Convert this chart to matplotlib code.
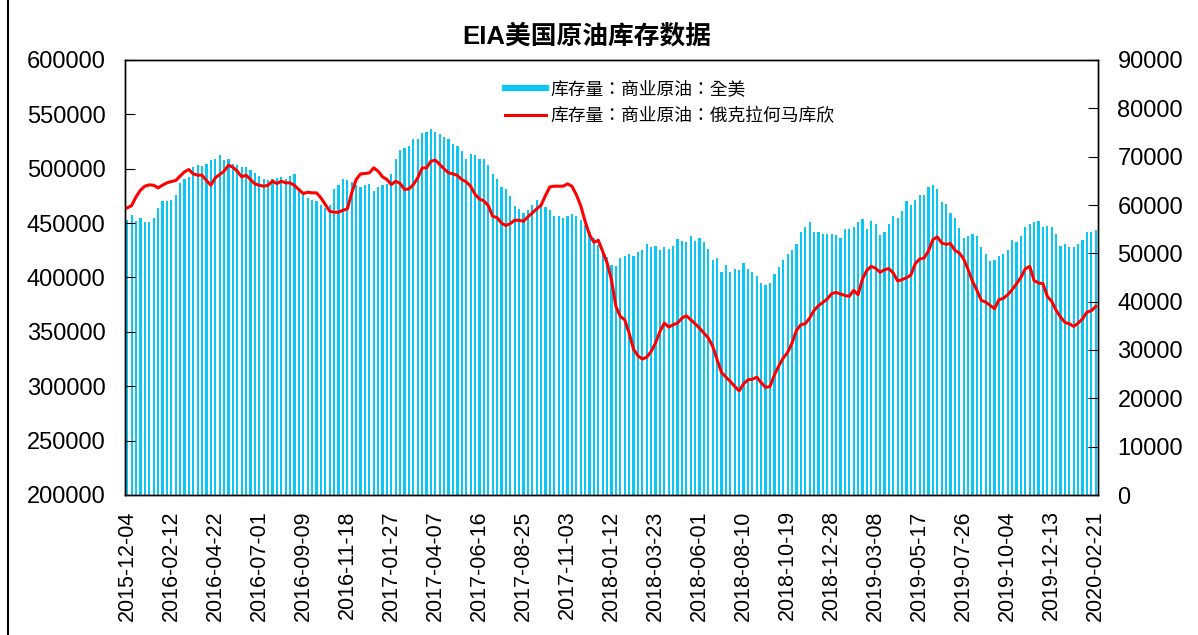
import numpy as np
import pandas as pd
import matplotlib
matplotlib.use('Agg')
import matplotlib.pyplot as plt
from matplotlib.lines import Line2D
from matplotlib import ticker

plt.rcParams['font.family'] = ['Liberation Sans', 'Noto Sans CJK SC', 'DejaVu Sans']

# weekly data, 2015-12-04 .. 2020-02-21 (thousand barrels)
weeks = pd.date_range('2015-12-04', periods=221, freq='7D')

stock_us = [
    453250, 457850, 452300, 454800, 450800, 450800, 454800, 463700, 470750, 470750,
    471700, 476300, 487000, 490700, 492200, 501400, 503600, 502400, 504800, 507900,
    509100, 512200, 507900, 509100, 504800, 503600, 501400, 501400, 499300, 496200,
    493150, 490700, 489800, 490700, 491600, 492400, 490700, 493150, 495300, 482400,
    476300, 473200, 471700, 470100, 467100, 464000, 467100, 481800, 484900, 490700,
    489200, 487600, 484900, 483300, 484600, 486400, 479300, 483300, 484900, 486100,
    495300, 509100, 517700, 519200, 520800, 527500, 527500, 533060, 533700, 536100,
    533700, 531500, 529400, 527500, 522300, 520800, 516200, 509400, 513700, 512200,
    509400, 509100, 503300, 495300, 490700, 483000, 481800, 474700, 466100, 463400,
    459400, 461800, 467100, 471700, 468600, 464900, 462500, 456300, 456300, 454800,
    456300, 458800, 456300, 453250, 448600, 441600, 436400, 430200, 423200, 419000,
    411800, 410300, 417900, 419500, 422000, 419500, 423500, 425000, 430800, 428100,
    429300, 425000, 428100, 426200, 429300, 435400, 433300, 432400, 437900, 433300,
    436400, 432400, 426500, 416400, 417900, 405000, 411200, 405000, 407800, 406600,
    413300, 407800, 405000, 401700, 394900, 393400, 394900, 403500, 409700, 416400,
    421900, 425000, 430800, 441900, 446200, 450800, 441900, 441900, 440300, 440300,
    440300, 438800, 436400, 444900, 444900, 446500, 450800, 453800, 444900, 452300,
    449300, 438800, 441900, 449300, 456300, 454800, 460900, 470700, 466400, 471700,
    476300, 476300, 482800, 484600, 481800, 469200, 467700, 459400, 454800, 445600,
    436400, 437900, 440400, 437900, 427800, 421900, 414900, 416400, 419500, 421900,
    425000, 434800, 432400, 437900, 446500, 449300, 450800, 451700, 446200, 447700,
    446200, 440300, 429300, 430800, 427800, 427800, 430800, 434800, 441900, 441900,
    444000,
]

stock_cushing = [
    59400, 59880, 61680, 63060, 63890, 64160, 64090, 63540, 64090, 64580,
    64850, 65060, 65960, 66860, 67340, 66440, 66170, 66170, 65060, 64090,
    65610, 66300, 66990, 68240, 67820, 66990, 65820, 66170, 65270, 64370,
    64090, 63890, 64090, 64920, 64440, 64920, 64580, 64580, 64020, 63200,
    62370, 62640, 62510, 62510, 61470, 60090, 58710, 58500, 58500, 58910,
    59190, 62510, 65270, 66440, 66510, 66650, 67680, 66990, 65820, 65270,
    64230, 64920, 64440, 63200, 63330, 64230, 65610, 67680, 67680, 69070,
    69270, 68380, 67450, 66650, 66440, 66100, 65270, 64780, 63890, 62230,
    61260, 60850, 59880, 57670, 57390, 56290, 55740, 56150, 56840, 56840,
    56630, 57530, 58360, 59190, 59950, 61950, 63750, 63890, 63890, 63890,
    64370, 63890, 62160, 59880, 56630, 53870, 52280, 52700, 50400, 48000,
    44500, 39020, 36950, 36260, 33500, 30180, 28800, 28110, 28520, 29700,
    31420, 33840, 35570, 34740, 35220, 35570, 36600, 37090, 36260, 35430,
    34530, 33500, 32460, 30730, 27970, 25340, 24380, 23480, 22440, 21550,
    23000, 23830, 23960, 24380, 23240, 22270, 22440, 24860, 26730, 28320,
    29490, 31420, 34050, 35220, 35430, 36600, 38190, 39160, 39850, 40540,
    41650, 41920, 41580, 41300, 41090, 42340, 41440, 44680, 46480, 47310,
    46900, 46070, 46620, 46830, 45930, 44270, 44550, 44960, 45510, 47860,
    48830, 49040, 50500, 52840, 53390, 52140, 51870, 52010, 50620, 50070,
    48830, 46620, 44200, 42340, 40260, 39920, 39230, 38540, 40400, 40680,
    41440, 42480, 43720, 45030, 46830, 47310, 44340, 43860, 43720, 41090,
    40060, 38190, 36810, 35700, 35430, 34880, 35570, 36470, 37850, 38130,
    39020,
]

tick_labels = ['2015-12-04', '2016-02-12', '2016-04-22', '2016-07-01', '2016-09-09',
               '2016-11-18', '2017-01-27', '2017-04-07', '2017-06-16', '2017-08-25',
               '2017-11-03', '2018-01-12', '2018-03-23', '2018-06-01', '2018-08-10',
               '2018-10-19', '2018-12-28', '2019-03-08', '2019-05-17', '2019-07-26',
               '2019-10-04', '2019-12-13', '2020-02-21']

name_us = '库存量：商业原油：全美'
name_cushing = '库存量：商业原油：俄克拉何马库欣'
bar_color = '#0cc6f5'

fig = plt.figure(figsize=(11.98, 6.35), dpi=100)
ax = fig.add_axes([125 / 1198, 1 - 495 / 635, 973 / 1198, 435 / 635])

x = np.arange(len(weeks))
ax.bar(x, stock_us, width=0.5, color=bar_color, linewidth=0)
ax.set_xlim(-0.5, len(weeks) - 0.5)
ax.set_ylim(200000, 600000)
ax.set_yticks(range(200000, 600001, 50000))
ax.yaxis.set_major_formatter(ticker.FuncFormatter(lambda v, p: '%d' % v))
ax.tick_params(axis='y', direction='in', length=7, labelsize=17, pad=14)
ax.set_xticks(x[::10])
ax.set_xticklabels(tick_labels, rotation=90, fontsize=15.5)
ax.tick_params(axis='x', length=0, pad=11)

ax2 = ax.twinx()
ax2.plot(x, stock_cushing, color='#ff0000', lw=2.2)
ax2.set_ylim(0, 90000)
ax2.set_yticks(range(0, 90001, 10000))
ax2.yaxis.set_major_formatter(ticker.FuncFormatter(lambda v, p: '%d' % v))
ax2.tick_params(axis='y', direction='in', length=7, labelsize=17, pad=14)

for a in (ax, ax2):
    for s in a.spines.values():
        s.set_color('black')
        s.set_linewidth(1.0)

fig.text(587 / 1198, 1 - 36 / 635, 'EIA美国原油库存数据', ha='center', va='center',
         fontsize=18.5, fontweight='bold')

handles = [Line2D([], [], color=bar_color, lw=4.5),
           Line2D([], [], color='#ff0000', lw=2.2)]
ax2.legend(handles, [name_us, name_cushing], loc='upper left',
           bbox_to_anchor=(505 / 1198, 1 - 80 / 635), bbox_transform=fig.transFigure,
           frameon=False, handlelength=2.3, handletextpad=0.25,
           labelspacing=0.5, borderpad=0, borderaxespad=0,
           prop={'family': ['Noto Sans CJK TC', 'DejaVu Sans'], 'size': 12.8})

fig.add_artist(Line2D([8 / 1198, 8 / 1198], [0, 1], color='black', lw=1.5))

fig.savefig('out.png', dpi=100)
